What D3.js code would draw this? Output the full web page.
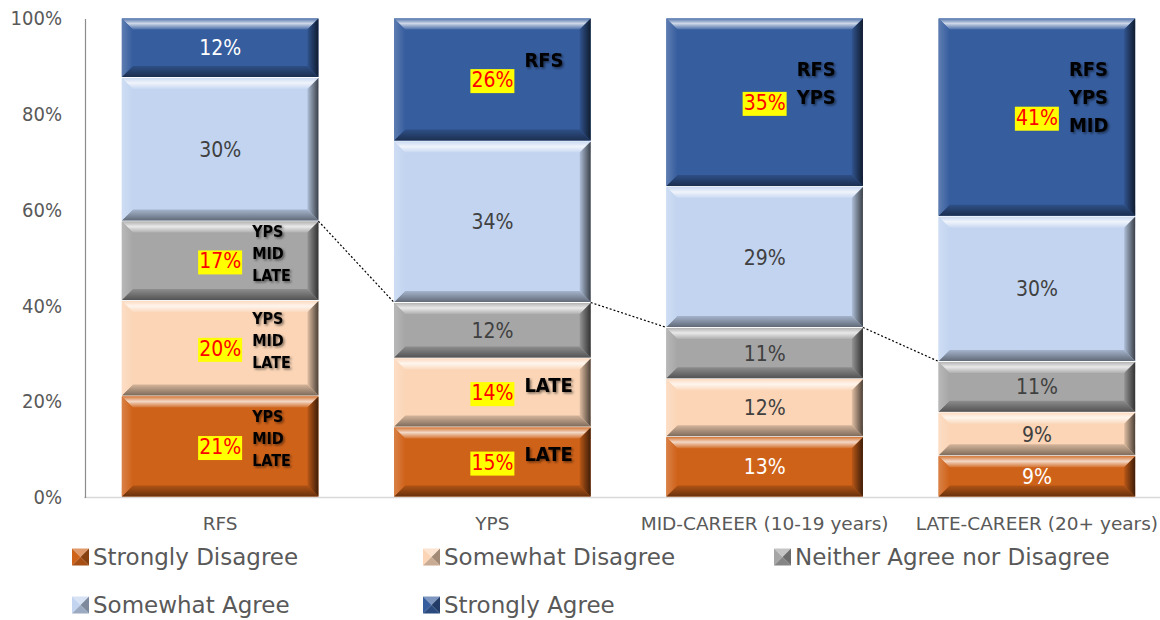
<!DOCTYPE html>
<html>
<head>
<meta charset="utf-8">
<script src="https://cdn.jsdelivr.net/npm/d3@7"></script>
<style>
  body { margin: 0; background: #fff; }
  text { font-family: "DejaVu Sans Condensed", "DejaVu Sans", sans-serif; }
  .wide { font-family: "DejaVu Sans", sans-serif; }
</style>
</head>
<body>
<svg width="1160" height="620"></svg>
<script>
// data (percent of respondents)
const categories = ["RFS", "YPS", "MID-CAREER (10-19 years)", "LATE-CAREER (20+ years)"];
const seriesNames = ["Strongly Disagree", "Somewhat Disagree", "Neither Agree nor Disagree", "Somewhat Agree", "Strongly Agree"];
const stronglyDisagree = [21.1, 14.6, 12.6, 8.6];
const somewhatDisagree = [19.9, 14.4, 12.1, 9.1];
const neitherAgree     = [16.6, 11.6, 10.7, 10.6];
const somewhatAgree    = [30.0, 33.7, 29.4, 30.3];
const stronglyAgree    = [12.4, 25.7, 35.2, 41.4];

// groups each value differs significantly from
const sigStronglyDisagree = [["YPS", "MID", "LATE"], ["LATE"], [], []];
const sigSomewhatDisagree = [["YPS", "MID", "LATE"], ["LATE"], [], []];
const sigNeitherAgree     = [["YPS", "MID", "LATE"], [], [], []];
const sigSomewhatAgree    = [[], [], [], []];
const sigStronglyAgree    = [[], ["RFS"], ["RFS", "YPS"], ["RFS", "YPS", "MID"]];

const yTicks = [0, 20, 40, 60, 80, 100];

const colors = ["#cf6219", "#fbd5b6", "#a6a6a6", "#c2d4f0", "#365d9e"];
const labelColors = ["#ffffff", "#404040", "#404040", "#404040", "#ffffff"];

const allValues = [stronglyDisagree, somewhatDisagree, neitherAgree, somewhatAgree, stronglyAgree];
const allSig = [sigStronglyDisagree, sigSomewhatDisagree, sigNeitherAgree, sigSomewhatAgree, sigStronglyAgree];

const table = categories.map((c, i) => {
    const row = { category: c };
    seriesNames.forEach((s, j) => row[s] = allValues[j][i]);
    return row;
});

const svg = d3.select("svg");
const defs = svg.append("defs");

const x = d3.scaleBand()
    .domain(categories)
    .range([84, 1173])
    .paddingInner(0.278)
    .paddingOuter(0.139);

const y = d3.scaleLinear()
    .domain([0, 100])
    .range([497, 18]);

const stack = d3.stack().keys(seriesNames);
const layers = stack(table);

const lighten = (c, t) => d3.interpolateRgb(c, "#ffffff")(t);
const darken = (c, t) => d3.interpolateRgb(c, "#000000")(t);

// bevel gradients
colors.forEach((c, i) => {
    const grad = (id, x2, y2, stops) => {
        const g = defs.append("linearGradient").attr("id", id)
            .attr("x1", 0).attr("y1", 0).attr("x2", x2).attr("y2", y2);
        stops.forEach(s => g.append("stop").attr("offset", s[0]).attr("stop-color", s[1]));
    };
    grad("top" + i, 0, 1, [[0, lighten(c, 0.15)], [0.45, lighten(c, 0.75)], [1, lighten(c, 0.1)]]);
    grad("left" + i, 1, 0, [[0, lighten(c, 0.2)], [1, c]]);
    grad("right" + i, 1, 0, [[0, darken(c, 0.1)], [1, darken(c, 0.7)]]);
    grad("bottom" + i, 0, 1, [[0, darken(c, 0.15)], [1, darken(c, 0.5)]]);
});

const shadow = defs.append("filter").attr("id", "txtShadow")
    .attr("x", "-20%").attr("y", "-20%").attr("width", "140%").attr("height", "140%");
shadow.append("feDropShadow").attr("dx", 1.5).attr("dy", 1.5)
    .attr("stdDeviation", 1).attr("flood-color", "#000").attr("flood-opacity", 0.5);

function bevelRect(g, x0, y0, w, h, i) {
    const b = Math.min(11, h / 3);
    g.append("rect").attr("x", x0).attr("y", y0).attr("width", w).attr("height", h)
        .attr("fill", colors[i]);
    const poly = pts => pts.map(p => p.join(",")).join(" ");
    const x1 = x0 + w, y1 = y0 + h;
    g.append("polygon").attr("fill", `url(#top${i})`)
        .attr("points", poly([[x0, y0], [x1, y0], [x1 - b, y0 + b], [x0 + b, y0 + b]]));
    g.append("polygon").attr("fill", `url(#bottom${i})`)
        .attr("points", poly([[x0, y1], [x1, y1], [x1 - b, y1 - b], [x0 + b, y1 - b]]));
    g.append("polygon").attr("fill", `url(#left${i})`)
        .attr("points", poly([[x0, y0], [x0 + b, y0 + b], [x0 + b, y1 - b], [x0, y1]]));
    g.append("polygon").attr("fill", `url(#right${i})`)
        .attr("points", poly([[x1, y0], [x1 - b, y0 + b], [x1 - b, y1 - b], [x1, y1]]));
}

// axes
svg.append("line")
    .attr("x1", 84).attr("x2", 1160)
    .attr("y1", y(0) + 0.5).attr("y2", y(0) + 0.5)
    .attr("stroke", "#d9d9d9").attr("stroke-width", 1.5);
svg.append("line")
    .attr("x1", 85.5).attr("x2", 85.5)
    .attr("y1", y(100) + 1).attr("y2", y(0) + 1)
    .attr("stroke", "#8c8c8c").attr("stroke-width", 1.2);

svg.append("g").selectAll("text")
    .data(yTicks)
    .enter().append("text")
    .attr("x", 62)
    .attr("y", d => y(d))
    .attr("dy", "0.36em")
    .attr("text-anchor", "end")
    .attr("fill", "#595959")
    .style("font-size", "20px")
    .text(d => d + "%");

svg.append("g").selectAll("text")
    .data(categories)
    .enter().append("text")
    .attr("class", "wide")
    .attr("x", d => x(d) + x.bandwidth() / 2)
    .attr("y", 530)
    .attr("text-anchor", "middle")
    .attr("fill", "#595959")
    .style("font-size", "18.5px")
    .text(d => d);

// bars
const bars = svg.append("g");
layers.forEach((layer, i) => {
    layer.forEach(d => {
        const x0 = x(d.data.category);
        const yTop = y(d[1]), yBot = y(d[0]);
        bevelRect(bars, x0, yTop + 0.5, x.bandwidth(), yBot - yTop - 1, i);
    });
});

// series lines on top of the neutral segment
const neutral = layers[2];
for (let k = 0; k < categories.length - 1; k++) {
    svg.append("line")
        .attr("x1", x(categories[k]) + x.bandwidth())
        .attr("y1", y(neutral[k][1]))
        .attr("x2", x(categories[k + 1]))
        .attr("y2", y(neutral[k + 1][1]))
        .attr("stroke", "#000")
        .attr("stroke-width", 1.2)
        .attr("stroke-dasharray", "2,2");
}

// data labels
const labels = svg.append("g");
layers.forEach((layer, i) => {
    layer.forEach((d, k) => {
        const cx = x(d.data.category) + x.bandwidth() / 2;
        const cy = (y(d[0]) + y(d[1])) / 2;
        const sig = allSig[i][k];
        const txt = labels.append("text")
            .attr("x", cx).attr("y", cy).attr("dy", "0.36em")
            .attr("text-anchor", "middle")
            .style("font-size", "21px")
            .attr("fill", sig.length ? "#ff0000" : labelColors[i])
            .text(Math.round(d[1] - d[0]) + "%");
        if (sig.length) {
            const bb = txt.node().getBBox();
            labels.insert("rect", () => txt.node())
                .attr("x", bb.x - 1).attr("y", bb.y + 1)
                .attr("width", bb.width + 2).attr("height", bb.height)
                .attr("fill", "#ffff00");
            const big = i === 4 || sig.length < 3;
            const lh = big ? 28 : 22;
            const top = cy + (i === 4 ? -20 : -8) - (sig.length - 1) * lh / 2;
            const ann = labels.append("text")
                .attr("x", cx + 32)
                .attr("y", top)
                .attr("dy", "0.36em")
                .attr("fill", "#000")
                .attr("filter", "url(#txtShadow)")
                .style("font-size", big ? "20px" : "16px")
                .style("font-weight", "bold");
            sig.forEach((s, n) => ann.append("tspan")
                .attr("x", cx + 32)
                .attr("y", top + n * lh)
                .attr("dy", "0.36em")
                .text(s));
        }
    });
});

// legend
const legendX = [72, 423, 774];
const legendY = [557, 605];
const legend = svg.append("g");
seriesNames.forEach((s, i) => {
    const lx = legendX[i % 3], ly = legendY[Math.floor(i / 3)];
    const c = colors[i], m = 17;
    const x0 = lx, y0 = ly - m / 2, x1 = lx + m, y1 = ly + m / 2, mx = lx + m / 2;
    const poly = pts => pts.map(p => p.join(",")).join(" ");
    legend.append("polygon").attr("fill", lighten(c, 0.35)).attr("points", poly([[x0, y0], [x1, y0], [mx, ly]]));
    legend.append("polygon").attr("fill", c).attr("points", poly([[x0, y0], [mx, ly], [x0, y1]]));
    legend.append("polygon").attr("fill", darken(c, 0.35)).attr("points", poly([[x1, y0], [mx, ly], [x1, y1]]));
    legend.append("polygon").attr("fill", darken(c, 0.2)).attr("points", poly([[x0, y1], [mx, ly], [x1, y1]]));
    legend.append("text")
        .attr("class", "wide")
        .attr("x", lx + 21).attr("y", ly).attr("dy", "0.36em")
        .attr("fill", "#595959")
        .style("font-size", "23px")
        .text(s);
});
</script>
</body>
</html>
